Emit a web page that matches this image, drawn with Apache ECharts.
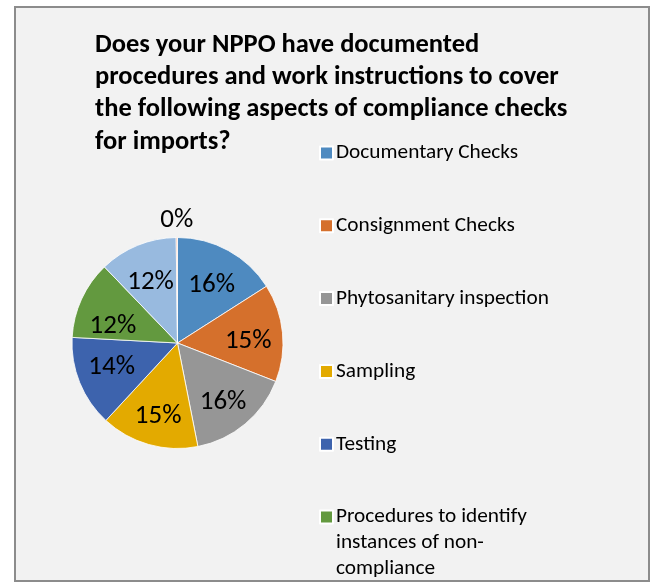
<!DOCTYPE html>
<html>
<head>
<meta charset="utf-8">
<script src="https://cdn.jsdelivr.net/npm/echarts@6/dist/echarts.min.js"></script>
<style>
  html, body { margin: 0; padding: 0; background: #ffffff; }
  #chart { width: 656px; height: 584px; }
</style>
</head>
<body>
<div id="chart"></div>
<script>
// Survey: documented procedures for import compliance checks
const titleText = 'Does your NPPO have documented\nprocedures and work instructions to cover\nthe following aspects of compliance checks\nfor imports?';
const categories = [
  'Documentary Checks',
  'Consignment Checks',
  'Phytosanitary inspection',
  'Sampling',
  'Testing',
  'Procedures to identify instances of non-compliance',
  'Release of consignments',
  'Other'
];
const responses = [16, 15, 16, 15, 14, 12, 12, 0.2];
const sliceColors = ['#4E8AC0', '#D5702C', '#969696', '#E3AA00', '#3D63AD', '#63993F', '#98BADF', '#F2A07C'];
// Legend entries that fit in the frame
const legendCount = 6;
// Manual line breaks for long legend names
const legendWrap = {
  'Procedures to identify instances of non-compliance': ['Procedures to identify', 'instances of non-', 'compliance']
};

const FONT = 'Carlito, Calibri, Lato, "Liberation Sans", sans-serif';
const chart = echarts.init(document.getElementById('chart'), null, { renderer: 'canvas' });

const pieCenter = [177.5, 343];
const pieRadius = 105.5;

const pieData = categories.map((name, i) => ({
  name: name,
  value: responses[i],
  itemStyle: { color: sliceColors[i] }
}));

const pctLabel = p => Math.round(p.percent) + '%';

// Vertical nudge of the percentage labels (px); a few crowded ones differ
const labelDy = { 4: -2, 5: 13 };
const nudge = p => ({ dy: labelDy[p.dataIndex] !== undefined ? labelDy[p.dataIndex] : 5 });

// One legend per entry so each row sits on its own line
const legendLineH = 26;
const legends = categories.slice(0, legendCount).map((name, i) => {
  const lines = legendWrap[name];
  const rowCenter = 153 + i * 72.8;
  let text = name;
  let boxH = legendLineH;
  if (lines) {
    // pad with empty lines above so the swatch lines up with the first line
    const padded = new Array(lines.length - 1).fill('').concat(lines);
    text = padded.join('\n');
    boxH = padded.length * legendLineH;
  }
  return {
    data: [name],
    orient: 'vertical',
    left: 319,
    top: rowCenter - boxH / 2,
    padding: 0,
    itemWidth: 13,
    itemHeight: 13,
    icon: 'rect',
    selectedMode: false,
    formatter: () => text,
    textStyle: {
      fontFamily: FONT,
      fontSize: 21.3,
      color: '#000000',
      lineHeight: legendLineH,
      padding: [0, 0, 0, -2]
    }
  };
});

const pctStyle = {
  show: true,
  position: 'inside',
  formatter: pctLabel,
  fontFamily: FONT,
  fontSize: 27,
  color: '#000000'
};

const option = {
  animation: false,
  backgroundColor: '#ffffff',
  graphic: [{
    type: 'rect',
    z: -10,
    shape: { x: 15, y: 7, width: 634, height: 574 },
    style: { fill: '#F2F2F2', stroke: '#8C8C8C', lineWidth: 2 }
  }],
  title: {
    text: titleText,
    left: 95,
    top: 29,
    padding: 0,
    textStyle: {
      fontFamily: FONT,
      fontSize: 26.5,
      fontWeight: 'bold',
      color: '#000000',
      lineHeight: 32.3
    }
  },
  legend: legends,
  series: [
    {
      // visible slices
      type: 'pie',
      center: pieCenter,
      radius: [0, pieRadius],
      startAngle: 90,
      clockwise: true,
      data: pieData,
      label: { show: false },
      labelLine: { show: false },
      itemStyle: { borderColor: '#ffffff', borderWidth: 0.8 },
      emphasis: { disabled: true }
    },
    {
      // percentage labels inside the slices
      type: 'pie',
      center: pieCenter,
      radius: [0, pieRadius * 1.29],
      startAngle: 90,
      clockwise: true,
      silent: true,
      data: categories.map((name, i) => ({
        name: name,
        value: responses[i],
        label: { show: i < categories.length - 1 }
      })),
      itemStyle: { color: 'rgba(0,0,0,0)', borderWidth: 0 },
      label: pctStyle,
      labelLine: { show: false },
      labelLayout: nudge,
      emphasis: { disabled: true }
    },
    {
      // label for the sliver at the top, placed above the pie
      type: 'pie',
      center: pieCenter,
      radius: [0, pieRadius * 2.36],
      startAngle: 90,
      clockwise: true,
      silent: true,
      data: categories.map((name, i) => ({
        name: name,
        value: responses[i],
        label: { show: i === categories.length - 1 }
      })),
      itemStyle: { color: 'rgba(0,0,0,0)', borderWidth: 0 },
      label: pctStyle,
      labelLine: { show: false },
      labelLayout: nudge,
      emphasis: { disabled: true }
    }
  ]
};

chart.setOption(option);
</script>
</body>
</html>
